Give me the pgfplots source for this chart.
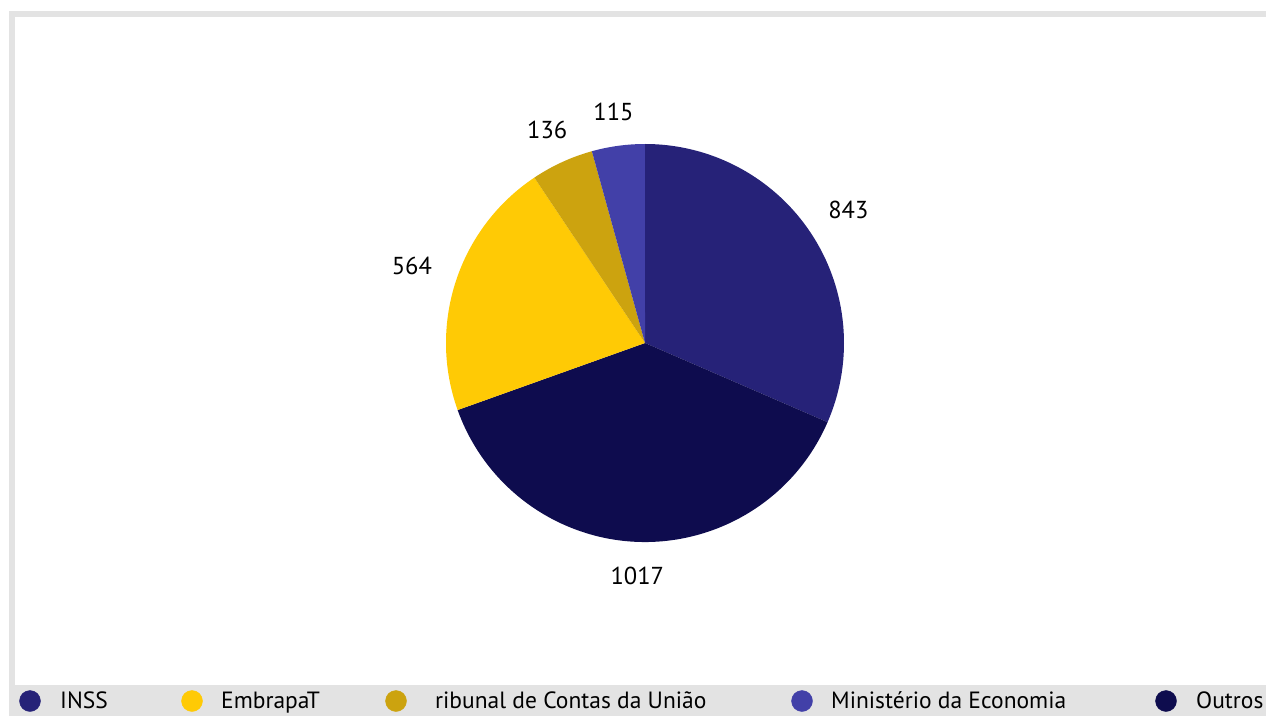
\documentclass[border=0pt]{standalone}
\usepackage{pgfplots}
\pgfplotsset{compat=1.18}
\usepackage{pgfplotstable}
\usepackage{fontspec}
\setmainfont{PT Sans}

\definecolor{col0}{HTML}{262278}
\definecolor{col1}{HTML}{0E0C4E}
\definecolor{col2}{HTML}{FFCA05}
\definecolor{col3}{HTML}{CCA30F}
\definecolor{col4}{HTML}{4240A8}
\definecolor{framegray}{HTML}{E3E3E3}

% slices in drawing order (clockwise from 12 o'clock)
\pgfplotstableread[col sep=comma]{
name,value
INSS,843
Outros,1017
EmbrapaT,564
Tribunal,136
Ministerio,115
}\piedata

\begin{document}
\begin{tikzpicture}[font=\fontsize{24.5}{29}\selectfont]
\path[use as bounding box, clip] (0,0) rectangle (1266pt,716pt);
% total
\gdef\pietotal{0}
\pgfplotstableforeachcolumnelement{value}\of\piedata\as\val{%
  \pgfmathsetmacro\tmp{\pietotal+\val}\xdef\pietotal{\tmp}}
% angles
\gdef\pieangle{90}
\pgfplotstableforeachcolumnelement{value}\of\piedata\as\val{%
  \pgfmathsetmacro\tmpA{\pieangle-\val/\pietotal*360}%
  \pgfmathsetmacro\tmpM{(\pieangle+\tmpA)/2}%
  \pgfmathsetmacro\tmpL{\tmpM+180}%
  \expandafter\xdef\csname pieS\pgfplotstablerow\endcsname{\pieangle}%
  \expandafter\xdef\csname pieE\pgfplotstablerow\endcsname{\tmpA}%
  \expandafter\xdef\csname pieM\pgfplotstablerow\endcsname{\tmpM}%
  \expandafter\xdef\csname pieL\pgfplotstablerow\endcsname{\tmpL}%
  \expandafter\xdef\csname pieV\pgfplotstablerow\endcsname{\val}%
  \xdef\pieangle{\tmpA}}
\begin{axis}[at={(0,0)}, anchor=south west, width=1266pt, height=716pt,
  scale only axis, xmin=0, xmax=1266, ymin=0, ymax=716, hide axis, clip=false]
% frame
\fill[framegray] (axis cs:9,0) rectangle (axis cs:1266,31);
\fill[framegray] (axis cs:9,31) rectangle (axis cs:15,705);
\fill[framegray] (axis cs:9,699) rectangle (axis cs:1266,705);
% pie
\pgfplotsinvokeforeach{0,...,4}{
  \fill[col#1] (axis cs:645,373) -- ++(\csname pieS#1\endcsname:199pt)
     arc[start angle=\csname pieS#1\endcsname, end angle=\csname pieE#1\endcsname, radius=199pt] -- cycle;
}
\pgfplotsinvokeforeach{0,...,4}{
  \path (axis cs:645,373) ++(\csname pieM#1\endcsname:221pt)
     node[anchor=\csname pieL#1\endcsname, inner sep=3pt, text=black] {\csname pieV#1\endcsname};
}
% legend
\addplot[only marks, mark=*, mark size=10.5pt, col0] coordinates {(30,15)};
\addplot[only marks, mark=*, mark size=10.5pt, col2] coordinates {(192,15)};
\addplot[only marks, mark=*, mark size=10.5pt, col3] coordinates {(396,15)};
\addplot[only marks, mark=*, mark size=10.5pt, col4] coordinates {(802,15)};
\addplot[only marks, mark=*, mark size=10.5pt, col1] coordinates {(1166,15)};
\begin{scope}[font=\fontsize{23.5}{28}\selectfont]
\node[anchor=base west, inner sep=0pt] at (axis cs:60,7.5) {INSS};
\node[anchor=base west, inner sep=0pt] at (axis cs:221,7.5) {EmbrapaT};
\node[anchor=base west, inner sep=0pt] at (axis cs:435,7.5) {ribunal de Contas da União};
\node[anchor=base west, inner sep=0pt] at (axis cs:831,7.5) {Ministério da Economia};
\node[anchor=base west, inner sep=0pt] at (axis cs:1196,7.5) {Outros};
\end{scope}
\end{axis}
\end{tikzpicture}
\end{document}
